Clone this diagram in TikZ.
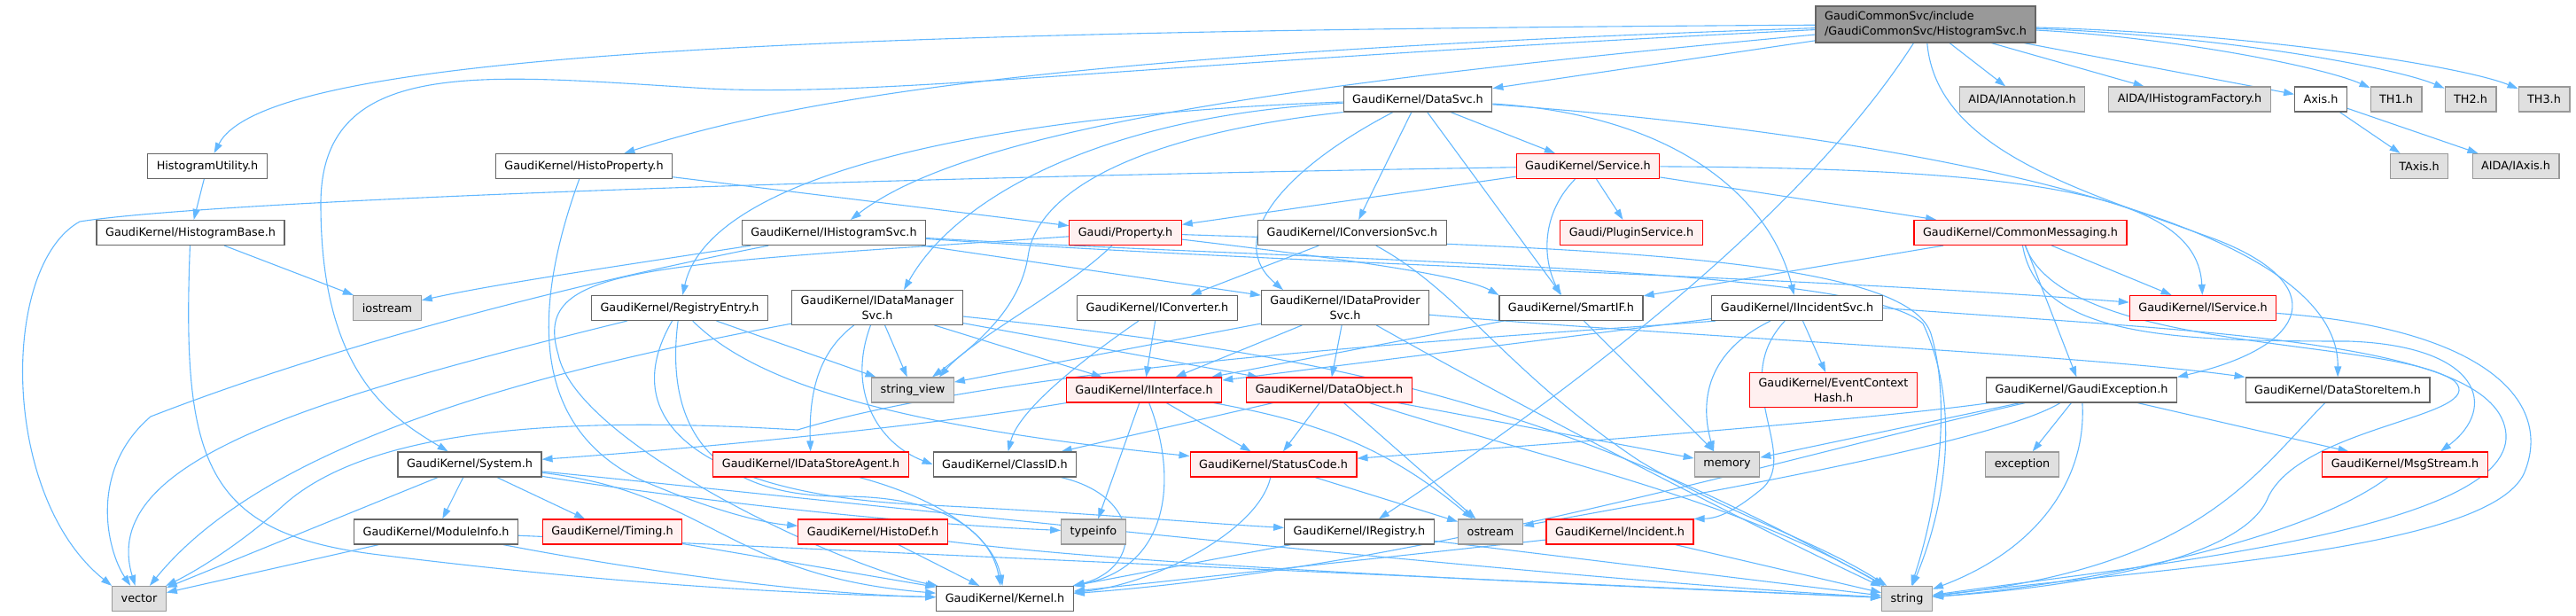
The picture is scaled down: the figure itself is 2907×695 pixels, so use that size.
\documentclass[tikz,border=0pt]{standalone}
\usepackage{fontspec}
\setmainfont{DejaVu Sans}
\usepackage{tikz}
\usetikzlibrary{arrows.meta}
\definecolor{edgeblue}{HTML}{63B8FF}
\definecolor{boxline}{HTML}{666666}
\definecolor{redfill}{HTML}{FFF0F0}
\definecolor{sysfill}{HTML}{E0E0E0}
\definecolor{sysline}{HTML}{999999}
\definecolor{topfill}{HTML}{999999}
\pgfdeclarelayer{back}
\pgfsetlayers{back,main}

\begin{document}
\begin{tikzpicture}[
  x=1pt, y=-1pt,
  box/.style={draw=boxline, fill=white, line width=1.2pt, minimum height=28pt, inner xsep=10pt, inner ysep=6pt, align=center, font=\fontsize{12.8}{16.7}\selectfont},
  redbox/.style={box, draw=red, fill=redfill},
  sysbox/.style={box, draw=sysline, fill=sysfill},
  topbox/.style={box, fill=topfill, align=left},
  dep/.style={-{Triangle[length=12pt,width=8pt]}, draw=edgeblue, line width=1.1pt}
]
\useasboundingbox (0,0) rectangle (2907,695);

% rank 0
\node[topbox] (top) at (2173,27.5) {GaudiCommonSvc/include\\/GaudiCommonSvc/HistogramSvc.h};

% rank 1
\node[box] (data_svc) at (1600,112) {GaudiKernel/DataSvc.h};
\node[sysbox] (aida_annot) at (2282,112) {AIDA/IAnnotation.h};
\node[sysbox] (aida_hfact) at (2471,112) {AIDA/IHistogramFactory.h};
\node[box] (axis) at (2619,112) {Axis.h};
\node[sysbox] (th1) at (2704,112) {TH1.h};
\node[sysbox] (th2) at (2788,112) {TH2.h};
\node[sysbox] (th3) at (2871,112) {TH3.h};

% rank 2
\node[box] (hist_util) at (234,187.5) {HistogramUtility.h};
\node[box] (histo_prop) at (659,187.5) {GaudiKernel/HistoProperty.h};
\node[redbox] (service) at (1792,187.5) {GaudiKernel/Service.h};
\node[sysbox] (taxis) at (2730,187.5) {TAxis.h};
\node[sysbox] (aida_iaxis) at (2839,187.5) {AIDA/IAxis.h};

% rank 3
\node[box] (hist_base) at (215,262.5) {GaudiKernel/HistogramBase.h};
\node[box] (i_hist_svc) at (941,262.5) {GaudiKernel/IHistogramSvc.h};
\node[redbox] (property) at (1270,262.5) {Gaudi/Property.h};
\node[box] (i_conv_svc) at (1526,262.5) {GaudiKernel/IConversionSvc.h};
\node[redbox] (plugin_svc) at (1841,262.5) {Gaudi/PluginService.h};
\node[redbox] (common_msg) at (2280,262.5) {GaudiKernel/CommonMessaging.h};

% rank 4
\node[sysbox] (iostream) at (437,347.5) {iostream};
\node[box] (reg_entry) at (767,347.5) {GaudiKernel/RegistryEntry.h};
\node[box] (i_data_mgr) at (990,347) {GaudiKernel/IDataManager\\Svc.h};
\node[box] (i_converter) at (1306,347.5) {GaudiKernel/IConverter.h};
\node[box] (i_data_prov) at (1518,347) {GaudiKernel/IDataProvider\\Svc.h};
\node[box] (smart_if) at (1773,347.5) {GaudiKernel/SmartIF.h};
\node[box] (i_incident) at (2028,347.5) {GaudiKernel/IIncidentSvc.h};
\node[redbox] (i_service) at (2486,347.5) {GaudiKernel/IService.h};

% rank 5
\node[sysbox] (string_view) at (1030,440) {string\_view};
\node[redbox] (i_interface) at (1291,440) {GaudiKernel/IInterface.h};
\node[redbox] (data_object) at (1500,440) {GaudiKernel/DataObject.h};
\node[redbox] (evt_ctx_hash) at (2069,440) {GaudiKernel/EventContext\\Hash.h};
\node[box] (gaudi_exc) at (2349,440) {GaudiKernel/GaudiException.h};
\node[box] (data_store_item) at (2638,440) {GaudiKernel/DataStoreItem.h};

% rank 6
\node[box] (system) at (530,524) {GaudiKernel/System.h};
\node[redbox] (i_store_agent) at (915,524) {GaudiKernel/IDataStoreAgent.h};
\node[box] (class_id) at (1134,524) {GaudiKernel/ClassID.h};
\node[redbox] (status_code) at (1437,524) {GaudiKernel/StatusCode.h};
\node[sysbox] (memory) at (1949,524) {memory};
\node[sysbox] (exception) at (2282,524) {exception};
\node[redbox] (msg_stream) at (2714,524) {GaudiKernel/MsgStream.h};

% rank 7
\node[box] (module_info) at (492,600) {GaudiKernel/ModuleInfo.h};
\node[redbox] (timing) at (691,600) {GaudiKernel/Timing.h};
\node[redbox] (histo_def) at (985,600) {GaudiKernel/HistoDef.h};
\node[sysbox] (typeinfo) at (1234,600) {typeinfo};
\node[box] (i_registry) at (1534,600) {GaudiKernel/IRegistry.h};
\node[sysbox] (ostream) at (1682,600) {ostream};
\node[redbox] (incident) at (1828,600) {GaudiKernel/Incident.h};

% rank 8
\node[sysbox] (vector) at (157,675.5) {vector};
\node[box] (kernel) at (1134,675.5) {GaudiKernel/Kernel.h};
\node[sysbox] (string) at (2152,675.5) {string};

\begin{pgfonlayer}{back}
% HistogramSvc.h
\draw[dep] (top) .. controls (900,35) and (300,60) .. (hist_util);
\draw[dep] (top) .. controls (1300,70) and (1000,110) .. (800,100) .. controls (550,85) and (362,60) .. (362,230) .. controls (362,420) and (440,470) .. (system);
\draw[dep] (top) .. controls (1200,60) and (900,110) .. (histo_prop);
\draw[dep] (top) .. controls (1500,90) and (1100,140) .. (i_hist_svc);
\draw[dep] (top) -- (data_svc);
\draw[dep] (top) .. controls (2030,250) and (1760,450) .. (i_registry);
\draw[dep] (top) .. controls (2185,170) and (2350,215) .. (2500,270) .. controls (2630,320) and (2610,390) .. (gaudi_exc.north east);
\draw[dep] (top) -- (aida_annot);
\draw[dep] (top) -- (aida_hfact);
\draw[dep] (top) -- (axis);
\draw[dep] (top) .. controls (2450,42) and (2620,75) .. (th1);
\draw[dep] (top) .. controls (2500,40) and (2700,75) .. (th2);
\draw[dep] (top) .. controls (2550,38) and (2780,75) .. (th3);

% Axis.h
\draw[dep] (axis) -- (taxis);
\draw[dep] (axis) -- (aida_iaxis);

% HistogramUtility.h, HistogramBase.h, HistoProperty.h
\draw[dep] (hist_util) -- (hist_base);
\draw[dep] (hist_base) -- (iostream);
\draw[dep] (hist_base) .. controls (205,520) and (230,600) .. (420,625) .. controls (700,660) and (900,670) .. (kernel);
\draw[dep] (histo_prop) -- (property);
\draw[dep] (histo_prop) .. controls (600,350) and (600,480) .. (720,540) .. controls (800,575) and (860,590) .. (histo_def);

% DataSvc.h
\draw[dep] (data_svc) .. controls (1100,130) and (800,200) .. (reg_entry);
\draw[dep] (data_svc) .. controls (1250,130) and (1080,220) .. ([xshift=30pt]i_data_mgr.north);
\draw[dep] (data_svc.south west) .. controls (1300,150) and (1170,210) .. (1160,290) .. controls (1150,350) and (1100,390) .. ([xshift=22pt]string_view.north);
\draw[dep] (data_svc) .. controls (1450,190) and (1380,270) .. ([xshift=-70pt]i_data_prov.north);
\draw[dep] (data_svc) -- (i_conv_svc);
\draw[dep] (data_svc) -- (smart_if);
\draw[dep] (data_svc) -- (service);
\draw[dep] (data_svc) .. controls (1900,130) and (2000,230) .. (i_incident);
\draw[dep] (data_svc) .. controls (2000,140) and (2640,220) .. (data_store_item);

% Service.h
\draw[dep] (service) .. controls (1000,200) and (250,225) .. (90,250) .. controls (0,300) and (0,560) .. (vector.north west);
\draw[dep] (service) -- (property);
\draw[dep] (service) .. controls (1740,240) and (1740,290) .. ([xshift=-12pt]smart_if.north);
\draw[dep] (service) -- (plugin_svc);
\draw[dep] (service) -- (common_msg);
\draw[dep] (service) .. controls (2300,190) and (2480,220) .. (i_service);

% IHistogramSvc.h
\draw[dep] (i_hist_svc) .. controls (700,300) and (560,320) .. (iostream);
\draw[dep] (i_hist_svc) .. controls (600,330) and (350,400) .. (170,470) .. controls (100,530) and (120,620) .. (vector);
\draw[dep] (i_hist_svc) -- (i_data_prov);
\draw[dep] (i_hist_svc) .. controls (1500,300) and (2000,310) .. (i_service);
\draw[dep] (i_hist_svc) .. controls (1500,295) and (2100,300) .. (2170,365) .. controls (2210,450) and (2200,560) .. (string);

% Property.h, IConversionSvc.h
\draw[dep] (property) .. controls (1200,330) and (1100,380) .. ([xshift=30pt]string_view.north);
\draw[dep] (property) .. controls (1500,290) and (1650,310) .. (smart_if.north west);
\draw[dep] (property) .. controls (720,300) and (600,300) .. (630,400) .. controls (650,500) and (950,640) .. (kernel);
\draw[dep] (property) .. controls (1800,280) and (2160,290) .. (2180,380) .. controls (2200,450) and (2190,560) .. (string);
\draw[dep] (i_conv_svc) -- (i_converter);
\draw[dep] (i_conv_svc) .. controls (1650,330) and (1700,420) .. (1850,520) .. controls (1950,580) and (2050,610) .. (string);

% CommonMessaging.h
\draw[dep] (common_msg) -- (smart_if);
\draw[dep] (common_msg) -- (i_service);
\draw[dep] (common_msg) -- (gaudi_exc);
\draw[dep] (common_msg) .. controls (2300,380) and (2450,385) .. (2650,385) .. controls (2800,390) and (2820,460) .. ([xshift=40pt]msg_stream.north);
\draw[dep] (common_msg) .. controls (2330,400) and (2700,380) .. (2770,430) .. controls (2810,470) and (2600,480) .. (2560,560) .. controls (2530,640) and (2300,665) .. (string);

% RegistryEntry.h
\draw[dep] (reg_entry) -- (string_view);
\draw[dep] (reg_entry) .. controls (350,450) and (110,520) .. (vector);
\draw[dep] (reg_entry) .. controls (750,480) and (800,560) .. (950,560) .. controls (1080,560) and (1120,610) .. ([xshift=-5pt]kernel.north);
\draw[dep] (reg_entry) .. controls (850,430) and (1000,480) .. (status_code);
\draw[dep] (reg_entry) .. controls (690,480) and (800,560) .. (1050,570) .. controls (1250,580) and (1350,590) .. (i_registry);

% IDataManagerSvc.h
\draw[dep] (i_data_mgr) .. controls (920,400) and (913,450) .. (i_store_agent);
\draw[dep] (i_data_mgr) .. controls (955,440) and (990,500) .. (class_id.west);
\draw[dep] (i_data_mgr) -- (string_view);
\draw[dep] (i_data_mgr) -- (i_interface);
\draw[dep] (i_data_mgr) -- (data_object);
\draw[dep] (i_data_mgr) .. controls (1500,400) and (1750,450) .. (string);
\draw[dep] (i_data_mgr) .. controls (600,420) and (300,500) .. (vector);

% IConverter.h, IDataProviderSvc.h, SmartIF.h
\draw[dep] (i_converter) -- (i_interface);
\draw[dep] (i_converter) .. controls (1230,400) and (1150,460) .. (class_id);
\draw[dep] (i_data_prov) -- (string_view);
\draw[dep] (i_data_prov) -- (i_interface);
\draw[dep] (i_data_prov) -- (data_object);
\draw[dep] (i_data_prov) .. controls (1700,450) and (1950,580) .. (string);
\draw[dep] (i_data_prov) .. controls (1900,380) and (2350,400) .. (data_store_item.north west);
\draw[dep] (smart_if) -- (i_interface);
\draw[dep] (smart_if) -- (memory);

% IIncidentSvc.h, IService.h
\draw[dep] (i_incident) -- (i_interface);
\draw[dep] ([xshift=5pt]i_incident.south west) .. controls (1700,380) and (1150,410) .. (900,485) .. controls (650,470) and (420,480) .. (320,570) .. controls (270,615) and (220,645) .. (vector);
\draw[dep] (i_incident) .. controls (1920,400) and (1920,460) .. ([xshift=-15pt]memory.north);
\draw[dep] (i_incident) .. controls (1950,430) and (2030,510) .. (1990,550) .. controls (1960,575) and (1940,585) .. (incident.north east);
\draw[dep] (i_incident) -- (evt_ctx_hash);
\draw[dep] (i_incident.east) .. controls (2500,375) and (2820,385) .. (2828,490) .. controls (2835,600) and (2400,640) .. (string);
\draw[dep] (i_service) .. controls (2800,370) and (2880,450) .. (2850,530) .. controls (2820,620) and (2450,640) .. (string);

% IInterface.h, DataObject.h
\draw[dep] (i_interface) .. controls (1050,480) and (800,505) .. (system);
\draw[dep] (i_interface) -- (typeinfo);
\draw[dep] (i_interface) .. controls (1330,540) and (1320,640) .. (kernel);
\draw[dep] (i_interface) -- (status_code);
\draw[dep] (i_interface) .. controls (1480,475) and (1560,500) .. ([xshift=-20pt]ostream.north);
\draw[dep] (data_object) -- (class_id);
\draw[dep] (data_object) -- (status_code);
\draw[dep] (data_object) -- (ostream);
\draw[dep] (data_object) -- (memory);
\draw[dep] (data_object) .. controls (1750,520) and (1950,560) .. (string);

% GaudiException.h, DataStoreItem.h, MsgStream.h
\draw[dep] (gaudi_exc) .. controls (2100,475) and (1700,505) .. (status_code);
\draw[dep] (gaudi_exc) -- (memory);
\draw[dep] (gaudi_exc) .. controls (2250,500) and (1900,560) .. (ostream);
\draw[dep] (gaudi_exc) .. controls (2000,520) and (1600,640) .. (kernel);
\draw[dep] (gaudi_exc) -- (exception);
\draw[dep] (gaudi_exc) .. controls (2355,540) and (2300,620) .. (string);
\draw[dep] (gaudi_exc) -- (msg_stream);
\draw[dep] (data_store_item) .. controls (2540,540) and (2480,640) .. (string);
\draw[dep] (msg_stream) .. controls (2600,610) and (2350,660) .. (string);

% System.h
\draw[dep] (system) -- (vector);
\draw[dep] (system) -- (module_info);
\draw[dep] (system) -- (timing);
\draw[dep] (system) .. controls (750,560) and (1000,590) .. (typeinfo);
\draw[dep] (system) .. controls (800,555) and (820,650) .. (kernel);
\draw[dep] (system) .. controls (900,560) and (1700,650) .. (string);

% lower ranks
\draw[dep] (i_store_agent) .. controls (1050,560) and (1120,600) .. (kernel);
\draw[dep] (class_id) .. controls (1290,560) and (1290,640) .. (kernel.north east);
\draw[dep] (status_code) -- (ostream);
\draw[dep] (status_code) .. controls (1420,600) and (1300,660) .. (kernel);
\draw[dep] (module_info) -- (vector);
\draw[dep] (module_info) .. controls (700,640) and (900,670) .. (kernel);
\draw[dep] (module_info) -- (string);
\draw[dep] (timing) -- (kernel);
\draw[dep] (histo_def) -- (kernel);
\draw[dep] (histo_def) .. controls (1300,640) and (1800,660) .. (string);
\draw[dep] (i_registry) -- (kernel);
\draw[dep] (i_registry) -- (string);
\draw[dep] (incident) -- (kernel);
\draw[dep] (incident) -- (string);
\end{pgfonlayer}

\end{tikzpicture}
\end{document}
